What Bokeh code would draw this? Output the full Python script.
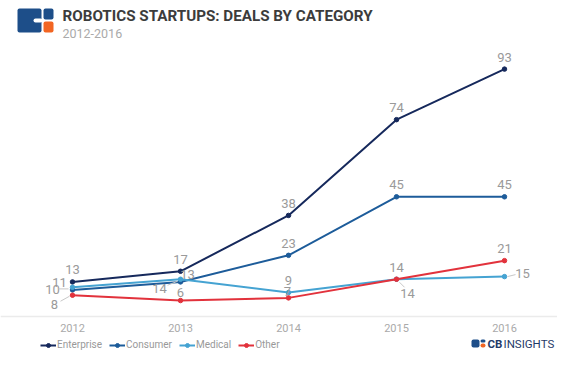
from bokeh.plotting import figure
from bokeh.models import (ColumnDataSource, Label, Legend, LegendItem,
                          BoxAnnotation, Span)
from bokeh.core.properties import value
from bokeh.embed import file_html
from bokeh.resources import INLINE

# ---------------- data ----------------
years = [2012, 2013, 2014, 2015, 2016]
year_labels = ["2012", "2013", "2014", "2015", "2016"]
enterprise = [13, 17, 38, 74, 93]
consumer = [10, 13, 23, 45, 45]
medical = [11, 14, 9, 14, 15]
other = [8, 6, 7, 14, 21]
series_names = ["Enterprise", "Consumer", "Medical", "Other"]
title_text = "ROBOTICS STARTUPS: DEALS BY CATEGORY"
subtitle_text = "2012-2016"

# ---------------- styling ----------------
colors = ["#16295c", "#1d5c9a", "#45a3d2", "#e2323c"]
# label offsets in pixels (dx right, dy up) relative to each point
label_offsets = {
    "Enterprise": [(0, 12), (0, 12), (0, 12), (0, 12), (0, 12)],
    "Consumer": [(-20, 0), (7, 7), (0, 12), (0, 12), (0, 12)],
    "Medical": [(-13, 5), (-21, -9), (0, 12), (11, -14), (18, 3)],
    "Other": [(-18, -9), (0, 8), (-1, 6), (0, 12), (0, 12)],
}
leaders = {
    "Consumer": {0: ((-14, 1), (-4, 1))},
    "Medical": {1: ((-13, -6), (-3, -2)), 3: ((3, -3), (8, -8)), 4: ((3, 0), (11, 2))},
    "Other": {0: ((-12, -6), (-3, -1))},
}

W, H = 557, 350
PX_X = 108.0            # px per year
PX_Y = 2.66             # px per deal
X0_PX, Y0_PX = 72, 316  # canvas px of (2012, 0)
XMIN = years[0] - X0_PX / PX_X
XMAX = XMIN + W / PX_X
YMIN = -(H - Y0_PX) / PX_Y
YMAX = YMIN + H / PX_Y

def cx(px):  # canvas x px -> data x
    return XMIN + px / PX_X

def cy(py):  # canvas y px (from top) -> data y
    return YMAX - py / PX_Y

p = figure(width=W, height=H, output_backend="svg", toolbar_location=None,
           x_range=(XMIN, XMAX), y_range=(YMIN, YMAX),
           x_axis_location=None, y_axis_location=None,
           min_border_left=0, min_border_right=0, min_border_top=0, min_border_bottom=0,
           background_fill_color="white", border_fill_color="white")
p.outline_line_color = None
p.grid.visible = False

# baseline
p.add_layout(Span(location=0, dimension="width", line_color="#ebebeb", line_width=1.5))

# x tick labels
p.text(years, [cy(327)] * len(years), text=year_labels, text_align="center",
       text_baseline="middle", text_color="#aaaaaa", text_font=value("Roboto"),
       text_font_size="11px")

all_series = [enterprise, consumer, medical, other]
items = []
for name, vals, col in zip(series_names, all_series, colors):
    src = ColumnDataSource(dict(x=years, y=vals))
    r1 = p.line("x", "y", source=src, line_color=col, line_width=2)
    r2 = p.scatter("x", "y", source=src, size=4.5, fill_color=col, line_color=col)
    items.append(LegendItem(label=name, renderers=[r1, r2]))

# data labels
for name, vals in zip(series_names, all_series):
    offs = label_offsets[name]
    lx = [x + dx / PX_X for x, (dx, dy) in zip(years, offs)]
    ly = [v + dy / PX_Y for v, (dx, dy) in zip(vals, offs)]
    p.text(lx, ly, text=[str(v) for v in vals], text_align="center",
           text_baseline="middle", text_color="#9a9a9a",
           text_font=value("Roboto"), text_font_size="13px")
    for idx, ((ax0, ay0), (ax1, ay1)) in leaders.get(name, {}).items():
        x, v = years[idx], vals[idx]
        p.segment(x0=[x + ax0 / PX_X], y0=[v + ay0 / PX_Y],
                  x1=[x + ax1 / PX_X], y1=[v + ay1 / PX_Y],
                  line_color="#c8c8c8", line_width=1)

legend = Legend(items=items, orientation="horizontal", location=(40, 0),
                border_line_color=None, background_fill_alpha=0,
                padding=0, margin=0, spacing=7, glyph_width=16, glyph_height=10,
                label_standoff=1, label_text_font="Roboto",
                label_text_font_size="10px", label_text_color="#999999",
                label_height=10)
p.add_layout(legend, "center")

# title / subtitle
p.add_layout(Label(x=cx(62), y=cy(15), text=title_text, text_font="Roboto",
                   text_font_style="bold", text_font_size="15.2px", text_color="#3c3c3c",
                   text_align="left", text_baseline="middle"))
p.add_layout(Label(x=cx(62), y=cy(33), text=subtitle_text, text_font="Roboto",
                   text_font_size="12.5px", text_color="#aaaaaa",
                   text_align="left", text_baseline="middle"))

def box(l, t, r, b, col):
    p.add_layout(BoxAnnotation(left=cx(l), right=cx(r), top=cy(t), bottom=cy(b),
                               fill_color=col, fill_alpha=1, line_color=None,
                               border_radius=2))

# CB logo (top-left)
box(17, 8, 41, 32, "#1d4e89")
box(33, 18, 42, 22, "white")
box(43, 8, 53, 19, "#1d4e89")
box(43, 21, 53, 32, "#f26522")

# footer logo
box(471, 339, 479, 347, "#1d4e89")
box(480, 339, 485, 342, "#1d4e89")
box(480, 343, 485, 347, "#f26522")
p.add_layout(Label(x=cx(487), y=cy(343), text="CB", text_font="Roboto",
                   text_font_style="bold", text_font_size="11.5px", text_color="#1f3a68",
                   text_align="left", text_baseline="middle"))
p.add_layout(Label(x=cx(503), y=cy(343), text="INSIGHTS", text_font="Roboto",
                   text_font_size="11.5px", text_color="#1f3a68",
                   text_align="left", text_baseline="middle"))

open("out.html", "w").write(file_html(p, INLINE))
